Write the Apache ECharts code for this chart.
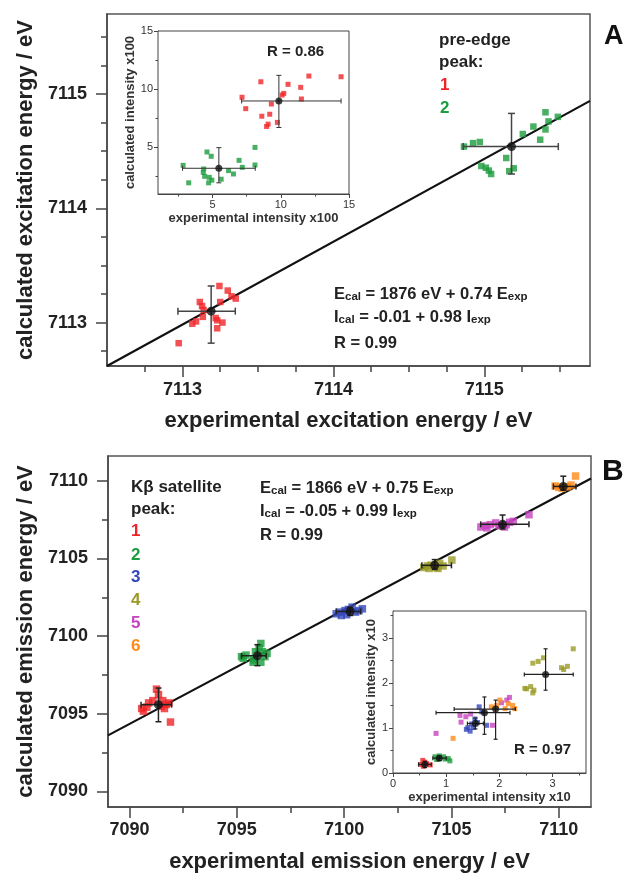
<!DOCTYPE html>
<html><head><meta charset="utf-8">
<script src="https://cdn.jsdelivr.net/npm/echarts@6/dist/echarts.min.js"></script>
<style>html,body{margin:0;padding:0;background:#fff}#c{width:628px;height:874px}</style>
</head><body><div id="c"></div>
<script>
// ---------- Panel A (pre-edge) ----------
const aXTicks = [7113, 7114, 7115];
const aYTicks = [7113, 7114, 7115];
const aMinor = [7112.75, 7113.25, 7113.5, 7113.75, 7114.25, 7114.5, 7114.75, 7115.25, 7115.5];
const aPeak1 = [[7113.245,7113.32],[7113.30,7113.28],[7113.353,7113.21],[7113.325,7113.23],[7113.115,7113.18],[7113.13,7113.145],[7113.25,7113.18],[7113.14,7113.11],[7113.22,7113.04],[7113.265,7113.00],[7113.23,7113.02],[7113.23,7112.95],[7113.09,7113.01],[7113.065,7112.99],[7113.135,7113.05],[7112.975,7112.82]];
const aPeak2 = [[7114.865,7114.54],[7114.925,7114.57],[7114.97,7114.58],[7114.98,7114.37],[7115.01,7114.355],[7115.03,7114.33],[7115.045,7114.30],[7115.145,7114.44],[7115.165,7114.325],[7115.195,7114.35],[7115.255,7114.65],[7115.325,7114.715],[7115.37,7114.60],[7115.405,7114.69],[7115.405,7114.84],[7115.425,7114.76],[7115.487,7114.80]];
// [x, y, xLow, xHigh, yLow, yHigh]
const aMeans = [[7113.19,7113.10,7112.97,7113.35,7112.82,7113.32],[7115.18,7114.54,7114.86,7115.49,7114.30,7114.83]];
const aFit = [[7112.5,7112.62],[7115.7,7114.94]];
// inset A (intensity x100)
const aInTicks = [5, 10, 15];
const aInMinor = [2.5, 7.5, 12.5];
const aIn1 = [[7.16,9.31],[7.43,8.33],[8.54,10.64],[8.61,7.68],[8.96,6.80],[9.07,7.0],[9.19,7.85],[9.31,8.73],[9.75,7.15],[10.10,9.5],[10.22,9.64],[10.53,10.42],[11.46,10.16],[11.51,9.16],[12.06,11.13],[14.42,11.07]];
const aIn2 = [[2.84,3.46],[3.25,1.96],[4.32,2.86],[4.35,3.15],[4.42,2.52],[4.59,4.61],[4.76,2.43],[4.71,1.96],[4.90,4.24],[4.95,2.19],[5.63,2.27],[6.17,3.01],[6.53,2.72],[6.94,3.89],[7.18,3.29],[8.11,5.0],[8.11,3.49]];
const aInMeans = [[9.86,8.99,7.13,14.42,6.71,11.19],[5.46,3.21,2.80,8.13,1.96,4.98]];
const aInFit = [[2.84,1.30],[14.35,12.58]];

// ---------- Panel B (K-beta satellite) ----------
const bXTicks = [7090, 7095, 7100, 7105, 7110];
const bYTicks = [7090, 7095, 7100, 7105, 7110];
const bMinor = [7092.5, 7097.5, 7102.5, 7107.5];
const bPeak1 = [[7090.57,7095.34],[7090.65,7095.17],[7090.89,7095.70],[7091.09,7095.85],[7091.26,7096.59],[7091.35,7096.23],[7091.55,7095.85],[7091.71,7095.6],[7091.63,7095.34],[7091.84,7095.70],[7091.91,7094.47],[7090.81,7095.43],[7091.47,7095.49]];
const bPeak2 = [[7095.22,7098.68],[7095.30,7098.57],[7095.43,7098.78],[7095.79,7098.47],[7095.87,7099.0],[7096.04,7099.26],[7096.12,7099.53],[7096.20,7099.0],[7096.31,7098.68],[7096.12,7098.32],[7095.76,7098.32],[7096.41,7098.89]];
const bPeak3 = [[7099.63,7101.44],[7099.79,7101.55],[7100.04,7101.65],[7100.20,7101.72],[7100.37,7101.87],[7100.53,7101.55],[7100.69,7101.65],[7100.85,7101.76],[7099.87,7101.33],[7100.12,7101.38]];
const bPeak4 = [[7103.71,7104.42],[7103.88,7104.52],[7104.04,7104.57],[7104.28,7104.42],[7104.45,7104.69],[7104.61,7104.52],[7105.02,7104.90],[7103.96,7104.36],[7104.37,7104.36]];
const bPeak5 = [[7106.37,7107.03],[7106.57,7107.12],[7106.81,7107.18],[7107.06,7107.29],[7107.22,7107.12],[7107.47,7107.03],[7107.71,7107.33],[7107.88,7107.39],[7108.61,7107.82],[7106.65,7106.97],[7107.55,7107.18]];
const bPeak6 = [[7109.83,7109.67],[7110.0,7109.58],[7110.41,7109.62],[7110.57,7109.73],[7110.78,7110.31],[7110.16,7109.52]];
const bMeans = [[7091.35,7095.59,7090.54,7091.96,7094.49,7096.66],[7095.96,7098.74,7095.22,7096.37,7098.10,7099.45],[7100.28,7101.59,7099.63,7100.77,7101.33,7101.87],[7104.22,7104.56,7103.62,7105.0,7104.30,7104.93],[7107.38,7107.20,7106.36,7108.61,7106.90,7107.80],[7110.21,7109.64,7109.75,7110.80,7109.40,7110.30]];
const bFit = [[7089,7093.61],[7111.5,7110.15]];
// inset B (intensity x10)
const bInTicks = [0, 1, 2, 3];
const bInMinor = [0.5, 1.5, 2.5, 3.5];
const bIn1 = [[0.52,0.19],[0.57,0.15],[0.63,0.21],[0.70,0.18],[0.60,0.24],[0.56,0.28]];
const bIn2 = [[0.79,0.36],[0.87,0.38],[0.95,0.36],[1.04,0.32],[1.07,0.27],[0.82,0.30],[0.98,0.31]];
const bIn3 = [[1.62,1.47],[1.67,1.36],[1.54,1.20],[1.48,1.09],[1.41,1.01],[1.45,0.93],[1.51,1.01],[1.59,1.12],[1.76,1.06],[1.38,0.97]];
const bIn4 = [[2.63,2.44],[2.73,2.48],[2.83,2.56],[3.17,2.34],[3.21,2.30],[3.28,2.37],[3.39,2.76],[2.51,1.87],[2.59,1.92],[2.65,1.84],[2.63,1.78],[2.48,1.88]];
const bIn5 = [[1.26,1.28],[1.28,1.13],[1.37,1.25],[1.46,1.31],[1.87,1.06],[2.04,1.56],[2.14,1.62],[2.19,1.68],[0.81,0.88]];
const bIn6 = [[1.13,0.77],[2.01,1.62],[2.25,1.50],[2.29,1.43],[2.11,1.43],[1.85,1.47],[1.95,1.50],[2.17,1.54]];
const bInMeans = [[0.60,0.19,0.48,0.72,0.12,0.26],[0.87,0.33,0.75,1.0,0.28,0.38],[1.55,1.10,1.40,1.70,0.98,1.22],[1.72,1.34,0.81,2.20,0.86,1.69],[1.93,1.42,1.15,2.30,0.75,1.62],[2.87,2.19,2.47,3.39,1.84,2.76]];
const bInFit = [[0.52,0.0],[3.40,2.80]];

const peakColors = ['#f02428','#1c9c3c','#3447b8','#9a9a28','#c642be','#ff8a18'];
const FONT = '"Liberation Sans", Arial, sans-serif';
const TXT = '#222';

function fmt(v){ return String(v); }
function axisPair(dim, gi, min, max, majors, minors, cfg){
  const pos = dim === 'x' ? 'bottom' : 'left';
  const major = {
    type:'value', gridIndex:gi, min:min, max:max, position:pos,
    axisLine:{show:true, onZero:false, lineStyle:{color:'#444', width:cfg.lw}},
    axisTick:{show:true, inside:false, length:cfg.major, customValues:majors, lineStyle:{color:'#444', width:cfg.lw}},
    axisLabel:{customValues:majors, formatter:fmt, margin:cfg.margin, fontSize:cfg.fs, fontWeight:cfg.fw, color:cfg.col, fontFamily:FONT},
    splitLine:{show:false},
    name:cfg.name, nameLocation:'middle', nameGap:cfg.gap,
    nameTextStyle:{fontSize:cfg.nfs, fontWeight:'bold', color:cfg.ncol, fontFamily:FONT}
  };
  const minor = {
    type:'value', gridIndex:gi, min:min, max:max, position:pos,
    axisLine:{show:false, onZero:false},
    axisTick:{show:true, inside:false, length:cfg.minor, customValues:minors, lineStyle:{color:'#444', width:cfg.lw}},
    axisLabel:{show:false}, splitLine:{show:false}
  };
  return [major, minor];
}
const mainCfg = {lw:1.5, major:11, minor:6, fs:18, fw:'bold', col:TXT, nfs:22, ncol:TXT};
const inCfg = {lw:1, major:4, minor:2.5, fs:11, fw:'normal', col:'#333', nfs:13, ncol:'#333'};

const xAxes = [].concat(
  axisPair('x',0,7112.5,7115.7,aXTicks,aMinor,Object.assign({},mainCfg,{margin:15,gap:44,name:'experimental excitation energy / eV'})),
  axisPair('x',1,1,15,aInTicks,aInMinor,Object.assign({},inCfg,{margin:5,gap:18,name:'experimental intensity x100'})),
  axisPair('x',2,7089,7111.5,bXTicks,bMinor,Object.assign({},mainCfg,{margin:14,gap:44,name:'experimental emission energy / eV'})),
  axisPair('x',3,0,3.63,bInTicks,bInMinor,Object.assign({},inCfg,{margin:5,gap:18,name:'experimental intensity x10'}))
);
const yAxes = [].concat(
  axisPair('y',0,7112.62,7115.7,aYTicks,aMinor,Object.assign({},mainCfg,{margin:20,gap:70,name:'calculated excitation energy / eV'})),
  axisPair('y',1,1,15,aInTicks,aInMinor,Object.assign({},inCfg,{margin:5,gap:20,name:'calculated intensity x100'})),
  axisPair('y',2,7089,7111.6,bYTicks,bMinor,Object.assign({},mainCfg,{margin:20,gap:70,name:'calculated emission energy / eV'})),
  axisPair('y',3,0,3.6,bInTicks,bInMinor,Object.assign({},inCfg,{margin:5,gap:14,name:'calculated intensity x10'}))
);

function errSeries(gi, data, cap, lw, col){
  return {
    type:'custom', xAxisIndex:gi*2, yAxisIndex:gi*2, z:5, data:data,
    encode:{x:0, y:1},
    renderItem:function(params, api){
      const x=api.value(0), y=api.value(1);
      const c=api.coord([x,y]);
      const xl=api.coord([api.value(2),y])[0], xh=api.coord([api.value(3),y])[0];
      const yl=api.coord([x,api.value(4)])[1], yh=api.coord([x,api.value(5)])[1];
      const st={stroke:col, lineWidth:lw};
      const h=cap/2;
      return {type:'group', children:[
        {type:'line', shape:{x1:xl,y1:c[1],x2:xh,y2:c[1]}, style:st},
        {type:'line', shape:{x1:c[0],y1:yl,x2:c[0],y2:yh}, style:st},
        {type:'line', shape:{x1:xl,y1:c[1]-h,x2:xl,y2:c[1]+h}, style:st},
        {type:'line', shape:{x1:xh,y1:c[1]-h,x2:xh,y2:c[1]+h}, style:st},
        {type:'line', shape:{x1:c[0]-h,y1:yl,x2:c[0]+h,y2:yl}, style:st},
        {type:'line', shape:{x1:c[0]-h,y1:yh,x2:c[0]+h,y2:yh}, style:st}
      ]};
    }
  };
}
function pts(gi, data, color, size){
  return {type:'scatter', xAxisIndex:gi*2, yAxisIndex:gi*2, data:data, symbol:'rect', symbolSize:size, z:3,
    itemStyle:{color:color}, silent:true};
}
function centers(gi, data, size){
  return {type:'scatter', xAxisIndex:gi*2, yAxisIndex:gi*2, data:data.map(d=>[d[0],d[1]]), symbol:'circle', symbolSize:size, z:6,
    itemStyle:{color:'#111'}, silent:true};
}
function fit(gi, data, w, col){
  return {type:'line', xAxisIndex:gi*2, yAxisIndex:gi*2, data:data, symbol:'none', z:2,
    lineStyle:{color:col, width:w}, silent:true};
}

const series = [
  fit(0, aFit, 2.2, '#111'),
  pts(0, aPeak1, peakColors[0], 6.5), pts(0, aPeak2, peakColors[1], 6.5),
  errSeries(0, aMeans, 7, 1.5, '#444'), centers(0, aMeans, 9),
  fit(1, aInFit, 1, '#555'),
  pts(1, aIn1, peakColors[0], 5), pts(1, aIn2, peakColors[1], 5),
  errSeries(1, aInMeans, 5, 1, '#333'), centers(1, aInMeans, 7),
  fit(2, bFit, 2.2, '#111'),
  pts(2, bPeak1, peakColors[0], 7.5), pts(2, bPeak2, peakColors[1], 7.5), pts(2, bPeak3, peakColors[2], 7.5),
  pts(2, bPeak4, peakColors[3], 7.5), pts(2, bPeak5, peakColors[4], 7.5), pts(2, bPeak6, peakColors[5], 7.5),
  errSeries(2, bMeans, 6, 1.5, '#222'), centers(2, bMeans, 9),
  fit(3, bInFit, 1, '#555'),
  pts(3, bIn1, peakColors[0], 5), pts(3, bIn2, peakColors[1], 5), pts(3, bIn3, peakColors[2], 5),
  pts(3, bIn4, peakColors[3], 5), pts(3, bIn5, peakColors[4], 5), pts(3, bIn6, peakColors[5], 5),
  errSeries(3, bInMeans, 4, 1.2, '#222'), centers(3, bInMeans, 7)
];

function txt(x, y, text, size, color, extra){
  return Object.assign({type:'text', x:x, y:y, z:20, style:Object.assign({text:text, fill:color||TXT, fontSize:size, fontWeight:'bold', fontFamily:FONT, align:'left', verticalAlign:'middle'}, extra||{})});
}
const richEq = {
  m:{fontSize:16.5, fontWeight:'bold', fontFamily:FONT, fill:TXT, lineHeight:20, verticalAlign:'bottom'},
  s:{fontSize:11.5, fontWeight:'bold', fontFamily:FONT, fill:TXT, lineHeight:11, verticalAlign:'bottom'}
};
function eq(x, y, text){ return {type:'text', x:x, y:y, z:20, style:{text:text, rich:richEq, align:'left', verticalAlign:'middle'}}; }

const graphics = [
  txt(604, 37, 'A', 27, '#111'),
  txt(439, 40, 'pre-edge', 17), txt(439, 62, 'peak:', 17),
  txt(440, 85, '1', 17, peakColors[0]), txt(440, 108, '2', 17, peakColors[1]),
  txt(267, 52, 'R = 0.86', 15),
  eq(334, 293, '{m|E}{s|cal}{m| = 1876 eV + 0.74 E}{s|exp}'),
  eq(334, 316, '{m|I}{s|cal}{m| = -0.01 + 0.98 I}{s|exp}'),
  txt(334, 343, 'R = 0.99', 16.5),
  txt(602, 472, 'B', 30, '#111'),
  txt(131, 487, 'Kβ satellite', 17), txt(131, 509, 'peak:', 17),
  txt(131, 531, '1', 17, peakColors[0]), txt(131, 555, '2', 17, peakColors[1]),
  txt(131, 577, '3', 17, peakColors[2]), txt(131, 600, '4', 17, peakColors[3]),
  txt(131, 623, '5', 17, peakColors[4]), txt(131, 646, '6', 17, peakColors[5]),
  eq(260, 487, '{m|E}{s|cal}{m| = 1866 eV + 0.75 E}{s|exp}'),
  eq(260, 510, '{m|I}{s|cal}{m| = -0.05 + 0.99 I}{s|exp}'),
  txt(260, 535, 'R = 0.99', 16.5),
  txt(514, 750, 'R = 0.97', 15)
];

const chart = echarts.init(document.getElementById('c'), null, {renderer:'canvas'});
chart.setOption({
  backgroundColor:'#fff',
  animation:false,
  grid:[
    {left:107, top:14, width:483, height:352, show:true, borderColor:'#555', borderWidth:1.5, backgroundColor:'#fff'},
    {left:158, top:31, width:191, height:163, show:true, borderColor:'#444', borderWidth:1, backgroundColor:'#fff', z:3},
    {left:108, top:456, width:483, height:354, show:true, borderColor:'#555', borderWidth:1.5, backgroundColor:'#fff'},
    {left:393, top:611, width:193, height:162, show:true, borderColor:'#444', borderWidth:1, backgroundColor:'#fff', z:3}
  ],
  xAxis:xAxes, yAxis:yAxes, series:series, graphic:graphics
});
</script></body></html>
